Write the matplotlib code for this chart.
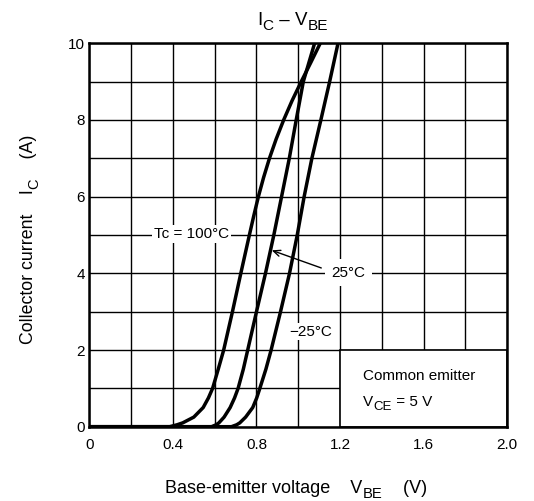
import matplotlib
matplotlib.use('Agg')
import matplotlib.pyplot as plt
from matplotlib.patches import Rectangle

plt.rcParams['font.family'] = ['Liberation Sans', 'DejaVu Sans']

ic_100 = [0, 0, 0.05, 0.1, 0.25, 0.5, 0.75, 1, 1.5, 2, 3, 4, 5, 5.5, 6, 6.5, 7, 7.5, 8, 8.5, 9, 9.5, 10]
vbe_100 = [0, 0.385, 0.42, 0.447, 0.50, 0.545, 0.570, 0.59, 0.617, 0.643, 0.685, 0.725, 0.766,
           0.787, 0.809, 0.834, 0.862, 0.894, 0.93, 0.97, 1.014, 1.06, 1.105]

ic_25 = [0, 0, 0.05, 0.1, 0.25, 0.5, 0.75, 1, 1.5, 2, 3, 4, 5, 6, 7, 8, 9, 10]
vbe_25 = [0, 0.585, 0.607, 0.62, 0.645, 0.674, 0.695, 0.712, 0.737, 0.758, 0.80, 0.843, 0.883,
          0.92, 0.957, 0.99, 1.024, 1.078]

ic_m25 = [0, 0, 0.05, 0.1, 0.25, 0.5, 0.75, 1, 1.5, 2, 3, 4, 5, 6, 7, 8, 9, 10]
vbe_m25 = [0, 0.68, 0.705, 0.72, 0.748, 0.782, 0.801, 0.816, 0.845, 0.87, 0.915, 0.958, 0.995,
           1.028, 1.065, 1.108, 1.15, 1.19]

x_ticks = [0, 0.4, 0.8, 1.2, 1.6, 2.0]
x_ticklabels = ['0', '0.4', '0.8', '1.2', '1.6', '2.0']
y_ticks = [0, 2, 4, 6, 8, 10]
y_ticklabels = ['0', '2', '4', '6', '8', '10']

W, H = 534, 501
fig = plt.figure(figsize=(W / 100, H / 100), dpi=100)
ax = fig.add_axes([0.1672, 0.1483, 0.7828, 0.7653])

ax.set_xlim(0, 2.0)
ax.set_ylim(0, 10)
ax.set_xticks(x_ticks)
ax.set_xticklabels(x_ticklabels)
ax.set_yticks(y_ticks)
ax.set_yticklabels(y_ticklabels)
ax.set_xticks([i * 0.2 for i in range(11)], minor=True)
ax.set_yticks(list(range(11)), minor=True)
ax.tick_params(which='both', length=0)
ax.tick_params(axis='x', pad=8, labelsize=11)
ax.tick_params(axis='y', pad=3, labelsize=11)
ax.set_axisbelow(True)
ax.grid(which='both', color='black', lw=1.0)
for s in ax.spines.values():
    s.set_linewidth(1.8)
    s.set_zorder(6)


def sub_text(first, pos, parts, size, sub_drop=3.0, **kw):
    """main text followed by (subscript, normal) pairs, chained on one line"""
    t0 = ax.text(pos[0], pos[1], first, fontsize=size, ha='left',
                 va='bottom', transform=fig.transFigure, **kw)
    prev = t0
    for sub, rest in parts:
        ts = ax.annotate(sub, xy=(1, 0), xycoords=prev, xytext=(0.3, -sub_drop),
                         textcoords='offset points', ha='left', va='bottom',
                         fontsize=size * 0.82, annotation_clip=False, **kw)
        prev = ax.annotate(rest, xy=(1, 0), xycoords=(ts, t0), xytext=(0.3, 0),
                           textcoords='offset points', ha='left', va='bottom',
                           fontsize=size, annotation_clip=False, **kw)
    return t0


# box for the test conditions
ax.add_patch(Rectangle((1.2, 0), 0.8, 2, facecolor='white', edgecolor='black',
                       lw=1.2, zorder=1.5))
ax.text(1.31, 1.33, 'Common emitter', fontsize=11, va='center', ha='left', zorder=5)
tv = ax.text(1.31, 0.45, 'V', fontsize=11, va='bottom', ha='left', zorder=5)
tc = ax.annotate('CE', xy=(1, 0), xycoords=tv, xytext=(0.3, -2.5),
                 textcoords='offset points', ha='left', va='bottom', fontsize=9.5,
                 zorder=5)
ax.annotate(' = 5 V', xy=(1, 0), xycoords=(tc, tv), ha='left', va='bottom',
            fontsize=11, zorder=5)

for v, i in [(vbe_100, ic_100), (vbe_25, ic_25), (vbe_m25, ic_m25)]:
    ax.plot(v, i, color='black', lw=2.5, solid_joinstyle='round',
            solid_capstyle='butt', zorder=3)

box = dict(boxstyle='square,pad=0.12', facecolor='white', edgecolor='none')
ax.text(0.49, 5.02, 'Tc = 100°C', fontsize=11, ha='center', va='center',
        bbox=box, zorder=4)
ax.text(1.24, 4.02, '25°C', fontsize=11, ha='center', va='center',
        bbox=dict(boxstyle='square,pad=0.45', facecolor='white', edgecolor='none'),
        zorder=4)
ax.text(1.058, 2.48, '−25°C', fontsize=11, ha='center', va='center',
        bbox=box, zorder=4)
ax.annotate('', xy=(0.873, 4.6), xytext=(1.11, 4.14),
            arrowprops=dict(arrowstyle='->,head_length=0.5,head_width=0.22',
                            lw=1.0, color='black', shrinkA=0, shrinkB=0),
            zorder=4)

# title and axis labels, with near full-size subscripts
sub_text('I', (257 / W, 1 - 29 / H), [('C', ' – V'), ('BE', '')], 13.5)
sub_text('Base-emitter voltage    V', (165 / W, 1 - 497 / H), [('BE', '    (V)')], 13)

ty = ax.text(37 / W, 1 - 344 / H, 'Collector current    I', fontsize=12.8,
             rotation=90, ha='right', va='bottom', transform=fig.transFigure)
ts = ax.annotate('C', xy=(1, 1), xycoords=ty, xytext=(3, 0.3),
                 textcoords='offset points', rotation=90, ha='right', va='bottom',
                 fontsize=12.8 * 0.82, annotation_clip=False)
ax.annotate('    (A)', xy=(1, 1), xycoords=(ty, ts), xytext=(0, 0.3),
            textcoords='offset points', rotation=90, ha='right', va='bottom',
            fontsize=12.8, annotation_clip=False)

fig.savefig('out.png', dpi=100)
